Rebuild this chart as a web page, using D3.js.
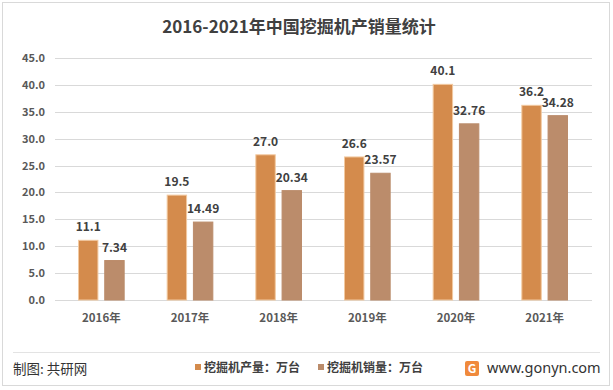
<!DOCTYPE html>
<html>
<head>
<meta charset="utf-8">
<script src="https://cdn.jsdelivr.net/npm/d3@7/dist/d3.min.js"></script>
<style>
  body { margin: 0; background: #fff; }
  text { font-family: "Microsoft YaHei", "Noto Sans CJK SC", "Noto Sans", sans-serif; }
</style>
</head>
<body>
<div id="chart"></div>
<script>
// 数据
var years = ["2016年", "2017年", "2018年", "2019年", "2020年", "2021年"];
var seriesNames = ["挖掘机产量：万台", "挖掘机销量：万台"];
var production = [11.1, 19.5, 27.0, 26.6, 40.1, 36.2];
var sales = [7.34, 14.49, 20.34, 23.57, 32.76, 34.28];
var yTicks = [0, 5, 10, 15, 20, 25, 30, 35, 40, 45];

var colors = ["#D48B4C", "#BB8C6B"];
var strokes = ["#F2C9A0", "#BB8C6B"];
var fmt = [d3.format(".1f"), d3.format(".2f")];

var W = 613, H = 390;
var svg = d3.select("#chart").append("svg")
    .attr("width", W)
    .attr("height", H);

// 外框
svg.append("rect")
    .attr("x", 2.5).attr("y", 2.5)
    .attr("width", W - 6).attr("height", H - 7)
    .attr("fill", "#fff")
    .attr("stroke", "#d9d9d9").attr("stroke-width", 1);

// 标题
svg.append("text")
    .attr("x", 299).attr("y", 33)
    .attr("text-anchor", "middle")
    .attr("font-size", "17px")
    .attr("font-weight", "bold")
    .attr("fill", "#404040")
    .text("2016-2021年中国挖掘机产销量统计");

var plotLeft = 55, plotRight = 592, plotTop = 58, plotBottom = 300;

var y = d3.scaleLinear().domain([0, 45]).range([plotBottom, plotTop]);
var x0 = d3.scaleBand().domain(years).range([57, 589])
    .paddingInner(0.485).paddingOuter(0.2425);
var x1 = d3.scaleBand().domain([0, 1]).range([0, x0.bandwidth()])
    .paddingInner(0.26);

// 网格线
svg.append("g").selectAll("line").data(yTicks).enter().append("line")
    .attr("x1", plotLeft).attr("x2", plotRight)
    .attr("y1", function (d) { return Math.round(y(d)) + 0.5; })
    .attr("y2", function (d) { return Math.round(y(d)) + 0.5; })
    .attr("stroke", "#d9d9d9").attr("stroke-width", 1);

// y轴标签
var yAxis = d3.axisLeft(y).tickValues(yTicks).tickFormat(d3.format(".1f")).tickSize(0).tickPadding(0);
var gy = svg.append("g").attr("transform", "translate(" + 45 + ",0)").call(yAxis);
gy.select(".domain").remove();
gy.selectAll("text")
    .attr("font-size", "11px")
    .attr("font-weight", "bold")
    .attr("fill", "#595959")
    .style("font-family", "'Microsoft YaHei', 'Noto Sans CJK SC', sans-serif");

// x轴标签
var xAxis = d3.axisBottom(x0).tickSize(0).tickPadding(0);
var gx = svg.append("g").attr("transform", "translate(0," + 314 + ")").call(xAxis);
gx.select(".domain").remove();
gx.selectAll("text")
    .attr("font-size", "11.5px")
    .attr("font-weight", "bold")
    .attr("fill", "#595959")
    .style("font-family", "'Microsoft YaHei', 'Noto Sans CJK SC', sans-serif");

// 柱子
var series = [production, sales];
series.forEach(function (vals, si) {
    var g = svg.append("g");
    g.selectAll("rect").data(vals).enter().append("rect")
        .attr("x", function (d, i) { return x0(years[i]) + x1(si); })
        .attr("y", function (d) { return y(d); })
        .attr("width", x1.bandwidth())
        .attr("height", function (d) { return plotBottom - y(d); })
        .attr("fill", colors[si])
        .attr("stroke", strokes[si]).attr("stroke-width", 1);
    g.selectAll("text").data(vals).enter().append("text")
        .attr("x", function (d, i) { return x0(years[i]) + x1(si) + x1.bandwidth() / 2; })
        .attr("y", function (d) { return y(d) - 9; })
        .attr("text-anchor", "middle")
        .attr("font-size", "12px")
        .attr("font-weight", "bold")
        .attr("fill", "#404040")
        .text(function (d) { return fmt[si](d); });
});

// 底部分隔线
svg.append("line")
    .attr("x1", 13).attr("x2", 600)
    .attr("y1", 352.5).attr("y2", 352.5)
    .attr("stroke", "#e3e3e3").attr("stroke-width", 1);

svg.append("text")
    .attr("x", 13).attr("y", 374)
    .attr("font-size", "13.5px")
    .attr("fill", "#333")
    .text("制图: 共研网");

// 图例
var legendX = [195, 318];
seriesNames.forEach(function (name, i) {
    svg.append("rect")
        .attr("x", legendX[i]).attr("y", 364)
        .attr("width", 6).attr("height", 6)
        .attr("fill", colors[i]);
    svg.append("text")
        .attr("x", legendX[i] + 9).attr("y", 372)
        .attr("font-size", "12px")
        .attr("font-weight", "bold")
        .attr("fill", "#404040")
        .text(name);
});

// logo
svg.append("rect")
    .attr("x", 465).attr("y", 361)
    .attr("width", 14).attr("height", 15).attr("rx", 2)
    .attr("fill", "#F08A3C");
svg.append("text")
    .attr("x", 472).attr("y", 373)
    .attr("text-anchor", "middle")
    .attr("font-size", "12px")
    .attr("font-weight", "bold")
    .attr("fill", "#fff")
    .text("G");
svg.append("text")
    .attr("x", 487).attr("y", 373)
    .attr("font-size", "14.5px")
    .attr("fill", "#333")
    .style("font-family", "'Noto Sans', 'DejaVu Sans', sans-serif")
    .text("www.gonyn.com");
</script>
</body>
</html>
